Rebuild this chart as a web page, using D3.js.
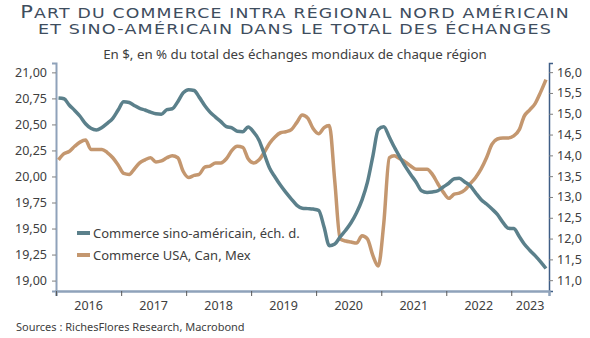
<!DOCTYPE html>
<html>
<head>
<meta charset="utf-8">
<script src="https://cdnjs.cloudflare.com/ajax/libs/d3/7.8.5/d3.min.js"></script>
<style>
  body { margin: 0; background: #fff; }
  svg { display: block; }
  .tick text { font-family: "Noto Sans", sans-serif; font-size: 12.5px; fill: #404040; }
</style>
</head>
<body>
<svg id="chart" width="590" height="338"></svg>
<script>
// monthly series, Jan 2016 -> Jul 2023
const startYear = 2016;
// Commerce USA, Can, Mex (left axis)
const usaCanMex = [
  20.16, 20.22, 20.24, 20.29, 20.33, 20.35, 20.26, 20.26, 20.26, 20.23, 20.18, 20.11,
  20.03, 20.02, 20.07, 20.13, 20.16, 20.18, 20.14, 20.15, 20.18, 20.20, 20.18, 20.05,
  19.99, 20.01, 20.02, 20.09, 20.10, 20.13, 20.13, 20.17, 20.25, 20.29, 20.28, 20.17,
  20.13, 20.16, 20.23, 20.32, 20.38, 20.42, 20.43, 20.45, 20.52, 20.59, 20.56, 20.46,
  20.41, 20.47, 20.49, 19.95, 19.40, 19.38, 19.37, 19.36, 19.43, 19.40, 19.24, 19.14,
  19.55, 20.18, 20.20, 20.17, 20.14, 20.10, 20.07, 20.07, 20.07, 20.02, 19.93, 19.85,
  19.79, 19.83, 19.84, 19.87, 19.93, 19.99, 20.07, 20.18, 20.31, 20.36, 20.37, 20.37,
  20.39, 20.45, 20.58, 20.64, 20.70, 20.81, 20.93
];
// Commerce sino-américain (right axis)
const sinoUs = [
  15.38, 15.36, 15.21, 15.08, 14.94, 14.76, 14.65, 14.61, 14.67, 14.77, 14.89, 15.09,
  15.29, 15.27, 15.20, 15.13, 15.09, 15.04, 15.00, 14.99, 15.10, 15.12, 15.29, 15.50,
  15.58, 15.56, 15.40, 15.20, 15.04, 14.92, 14.81, 14.69, 14.66, 14.58, 14.57, 14.68,
  14.56, 14.36, 14.04, 13.69, 13.48, 13.28, 13.11, 12.95, 12.80, 12.73, 12.72, 12.71,
  12.68, 12.27, 11.83, 11.87, 12.04, 12.20, 12.38, 12.62, 12.93, 13.35, 13.99, 14.62,
  14.69, 14.44, 14.20, 13.96, 13.74, 13.54, 13.36, 13.15, 13.11, 13.12, 13.15, 13.24,
  13.33, 13.44, 13.45, 13.36, 13.27, 13.10, 12.94, 12.83, 12.71, 12.58, 12.39, 12.25,
  12.24, 12.05, 11.87, 11.72, 11.59, 11.44, 11.28
];
const years = [2016, 2017, 2018, 2019, 2020, 2021, 2022, 2023];
const leftTicks = [19, 19.25, 19.5, 19.75, 20, 20.25, 20.5, 20.75, 21];
const rightTicks = [11, 11.5, 12, 12.5, 13, 13.5, 14, 14.5, 15, 15.5, 16];
const legendLabels = ["Commerce sino-américain, éch. d.", "Commerce USA, Can, Mex"];
const titleLines = [
  "Part du commerce intra régional nord américain",
  "et sino-américain dans le total des échanges"
];
const subtitle = "En $, en % du total des échanges mondiaux de chaque région";
const source = "Sources : RichesFlores Research, Macrobond";

const blue = "#5b808b";
const tan = "#c4976f";

const svg = d3.select("#chart");
const plot = { left: 56, right: 549, top: 63, bottom: 291 };

const frLocale = d3.formatLocale({ decimal: ",", thousands: " ", grouping: [3], currency: ["", " €"] });

const dateOf = i => new Date(startYear, i, 15);

const x = d3.scaleTime()
  .domain([new Date(2016, 0, 1), new Date(2023, 7, 1)])
  .range([plot.left, plot.right]);
const yLeft = d3.scaleLinear().domain([18.9, 21.09]).range([plot.bottom, plot.top]);
const yRight = d3.scaleLinear().domain([10.74, 16.22]).range([plot.bottom, plot.top]);

// title in small caps, big initial on the first line, stretched to a wide face
const titleWidths = [550, 514];
const titleBase = [17.5, 33.5];
titleLines.forEach((line, i) => {
  const t = svg.append("text")
    .attr("x", 0)
    .attr("y", 0)
    .attr("text-anchor", "middle")
    .style("font-family", "'DejaVu Sans', sans-serif")
    .style("letter-spacing", "1px")
    .attr("fill", "#3e4d5e");
  if (i === 0) {
    t.append("tspan").style("font-size", "17.5px").text(line.charAt(0).toUpperCase());
    t.append("tspan").style("font-size", "14.4px").text(line.slice(1).toUpperCase());
  } else {
    t.append("tspan").style("font-size", "14.4px").text(line.toUpperCase());
  }
  const len = t.node().getComputedTextLength();
  t.attr("transform", `translate(295,${titleBase[i]}) scale(${titleWidths[i] / len},1)`);
});

svg.append("text")
  .attr("x", 295)
  .attr("y", 59)
  .attr("text-anchor", "middle")
  .style("font-family", "'Noto Sans', sans-serif")
  .style("font-size", "13.3px")
  .attr("fill", "#404040")
  .text(subtitle);

// axes
const leftAxis = svg.append("g")
  .attr("transform", `translate(${plot.left},0)`)
  .call(d3.axisLeft(yLeft).tickValues(leftTicks).tickFormat(frLocale.format(".2f")).tickSizeOuter(0).tickSize(4).tickPadding(5));
leftAxis.select(".domain").attr("stroke", "#8fa2ba").attr("stroke-width", 2);
leftAxis.selectAll(".tick line").attr("stroke", "#7f7f7f");

const rightAxis = svg.append("g")
  .attr("transform", `translate(${plot.right},0)`)
  .call(d3.axisRight(yRight).tickValues(rightTicks).tickFormat(frLocale.format(".1f")).tickSizeOuter(0).tickSize(4).tickPadding(4));
rightAxis.select(".domain").attr("stroke", "#3f5e86").attr("stroke-width", 1.5);
rightAxis.selectAll(".tick line").attr("stroke", "#7f7f7f");

const bottomAxis = svg.append("g")
  .attr("transform", `translate(0,${plot.bottom})`)
  .call(d3.axisBottom(x).tickValues(years.map(y => new Date(y, 0, 1))).tickFormat("").tickSizeOuter(0).tickSize(5));
bottomAxis.select(".domain").attr("stroke", "#8fa2ba").attr("stroke-width", 2.5);
bottomAxis.selectAll(".tick line").attr("stroke", "#5a5a5a");

// year labels centred on each year
svg.append("g")
  .selectAll("text")
  .data(years)
  .join("text")
    .attr("x", d => {
      const a = x(new Date(d, 0, 1));
      const b = Math.min(x(new Date(d + 1, 0, 1)), plot.right);
      return (a + b) / 2;
    })
    .attr("y", 310)
    .attr("text-anchor", "middle")
    .style("font-family", "'Noto Sans', sans-serif")
    .style("font-size", "12.5px")
    .attr("fill", "#404040")
    .text(d => d);

// series lines
const lineLeft = d3.line().x((d, i) => x(dateOf(i))).y(d => yLeft(d)).curve(d3.curveMonotoneX);
const lineRight = d3.line().x((d, i) => x(dateOf(i))).y(d => yRight(d)).curve(d3.curveMonotoneX);

svg.append("path")
  .datum(usaCanMex)
  .attr("fill", "none")
  .attr("stroke", tan)
  .attr("stroke-width", 3.5)
  .attr("stroke-linejoin", "round")
  .attr("d", lineLeft);

svg.append("path")
  .datum(sinoUs)
  .attr("fill", "none")
  .attr("stroke", blue)
  .attr("stroke-width", 3.5)
  .attr("stroke-linejoin", "round")
  .attr("d", lineRight);

// legend
const legend = svg.append("g").attr("transform", "translate(77,233)");
legend.selectAll("g")
  .data(legendLabels)
  .join("g")
    .attr("transform", (d, i) => `translate(0,${i * 22})`)
    .each(function (d, i) {
      const g = d3.select(this);
      g.append("line")
        .attr("x1", 0).attr("x2", 13)
        .attr("stroke", i === 0 ? blue : tan)
        .attr("stroke-width", 4);
      g.append("text")
        .attr("x", 16)
        .attr("dy", "0.35em")
        .style("font-family", "'Noto Sans', sans-serif")
        .style("font-size", "13px")
        .attr("fill", "#404040")
        .text(d);
    });

svg.append("text")
  .attr("x", 16)
  .attr("y", 331)
  .style("font-family", "'Noto Sans', sans-serif")
  .style("font-size", "11px")
  .attr("fill", "#404040")
  .text(source);
</script>
</body>
</html>
